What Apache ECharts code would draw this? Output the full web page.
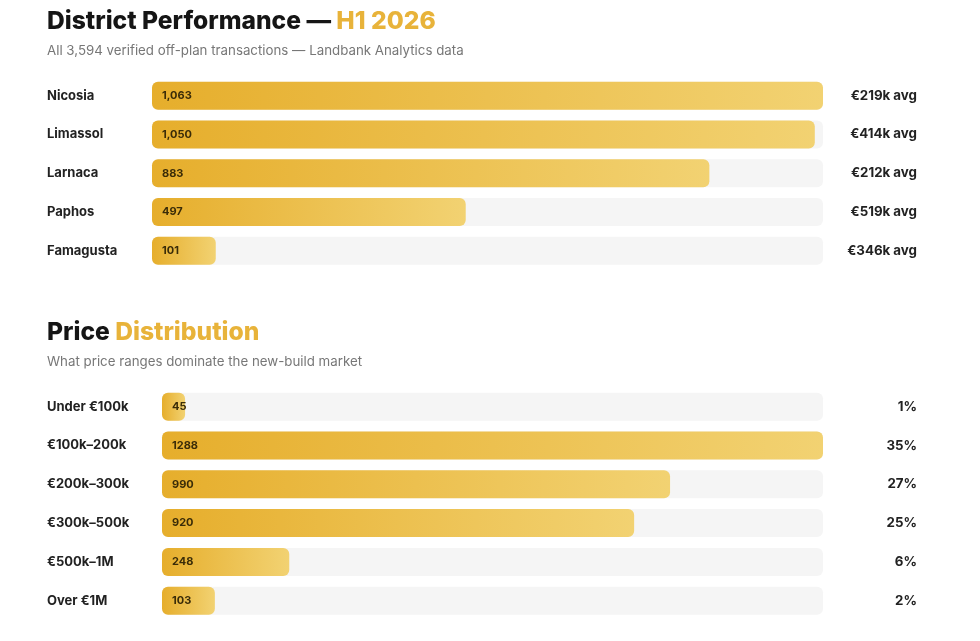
<!DOCTYPE html>
<html><head><meta charset="utf-8">
<script src="https://cdn.jsdelivr.net/npm/echarts@6/dist/echarts.min.js"></script>
<style>html,body{margin:0;padding:0;background:#fff}#c{width:980px;height:641px}</style>
</head><body><div id="c"></div>
<script>
const districts = ['Nicosia','Limassol','Larnaca','Paphos','Famagusta'];
const districtCounts = [1063,1050,883,497,101];
const districtCountLabels = ['1,063','1,050','883','497','101'];
const districtAvg = ['€219k avg','€414k avg','€212k avg','€519k avg','€346k avg'];

const priceRanges = ['Under €100k','€100k–200k','€200k–300k','€300k–500k','€500k–1M','Over €1M'];
const priceCounts = [45,1288,990,920,248,103];
const priceShares = ['1%','35%','27%','25%','6%','2%'];

const FONT = 'Inter, "Noto Sans", sans-serif';
const grad = () => new echarts.graphic.LinearGradient(0,0,1,0,[{offset:0,color:'#E6AE2C'},{offset:1,color:'#F2D272'}]);

function makeBar(idx, values, labels){
  return {
    type:'bar', xAxisIndex:idx, yAxisIndex:idx*2, data:values, barWidth:28,
    showBackground:true,
    backgroundStyle:{color:'#F5F5F5', borderRadius:6},
    itemStyle:{color:grad(), borderRadius:6},
    label:{show:true, position:'insideLeft', distance:10,
      formatter:p=>labels[p.dataIndex],
      fontFamily:FONT, fontSize:11, fontWeight:'bold', color:'#3A2C08'},
    silent:true
  };
}
const titleRich = {a:{fontFamily:FONT,fontSize:24.6,fontWeight:800,color:'#151515'},
                   b:{fontFamily:FONT,fontSize:24.6,fontWeight:800,color:'#E8B33A'}};

const chart = echarts.init(document.getElementById('c'));
chart.setOption({
  backgroundColor:'#fff',
  animation:false,
  title:[
    {text:'{a|District Performance — }{b|H1 2026}', left:47, top:9, padding:0,
      textStyle:{rich:titleRich}},
    {text:'All 3,594 verified off-plan transactions — Landbank Analytics data', left:47, top:44, padding:0,
      textStyle:{fontFamily:FONT,fontSize:13.3,fontWeight:'normal',color:'#777'}},
    {text:'{a|Price }{b|Distribution}', left:47, top:320, padding:0,
      textStyle:{rich:titleRich}},
    {text:'What price ranges dominate the new-build market', left:47, top:355, padding:0,
      textStyle:{fontFamily:FONT,fontSize:13.3,fontWeight:'normal',color:'#777'}}
  ],
  grid:[
    {left:152, right:157, top:76.3, height:193.8},
    {left:162, right:157, top:387.3, height:232.8}
  ],
  xAxis:[
    {gridIndex:0, type:'value', min:0, max:1063, show:false},
    {gridIndex:1, type:'value', min:0, max:1288, show:false}
  ],
  yAxis:[
    {gridIndex:0, type:'category', data:districts, inverse:true, axisLine:{show:false}, axisTick:{show:false},
      axisLabel:{align:'left', margin:105, fontFamily:FONT, fontSize:13, fontWeight:'bold', color:'#222'}},
    {gridIndex:0, type:'category', data:districtAvg, inverse:true, position:'right', axisLine:{show:false}, axisTick:{show:false},
      axisLabel:{align:'right', margin:94, fontFamily:FONT, fontSize:13.3, fontWeight:'bold', color:'#222'}},
    {gridIndex:1, type:'category', data:priceRanges, inverse:true, axisLine:{show:false}, axisTick:{show:false},
      axisLabel:{align:'left', margin:115, fontFamily:FONT, fontSize:13, fontWeight:'bold', color:'#222'}},
    {gridIndex:1, type:'category', data:priceShares, inverse:true, position:'right', axisLine:{show:false}, axisTick:{show:false},
      axisLabel:{align:'right', margin:94, fontFamily:FONT, fontSize:13.3, fontWeight:'bold', color:'#222'}}
  ],
  series:[
    makeBar(0, districtCounts, districtCountLabels),
    makeBar(1, priceCounts, priceCounts.map(String))
  ]
});
</script></body></html>
